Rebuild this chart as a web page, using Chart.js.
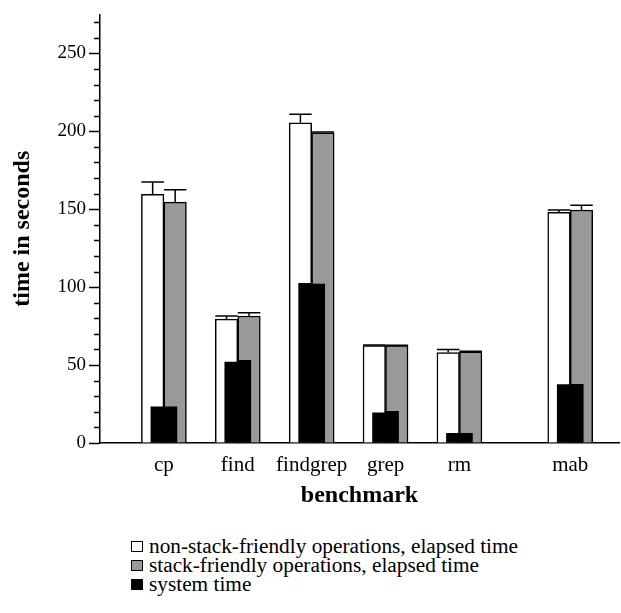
<!DOCTYPE html>
<html><head><meta charset="utf-8">
<script src="https://cdn.jsdelivr.net/npm/chart.js@4.4.0/dist/chart.umd.min.js"></script>
<style>
html,body{margin:0;padding:0;background:#fff;}
#wrap{position:relative;width:621px;height:613px;overflow:hidden;}
#c{position:absolute;left:0;top:0;}
.legend{position:absolute;left:131px;top:537px;font-family:"Liberation Serif","Times New Roman",serif;font-size:21.3px;color:#000;}
.legend .row{display:flex;align-items:center;height:19px;white-space:nowrap;}
.legend .sw{display:inline-block;width:12px;height:11px;border:1.5px solid #000;margin-right:6px;box-sizing:border-box;}
</style></head>
<body><div id="wrap"><canvas id="c" width="621" height="511"></canvas><div class="legend" id="legend"></div></div>
<script>
// ---- data ----
const categories = ['cp', 'find', 'findgrep', 'grep', 'rm', 'mab'];
const nonStackElapsed    = [159.5, 79.5, 205.5, 62.5, 58.0, 148.0];
const nonStackElapsedErr = [8.0, 2.0, 5.5, 0.3, 2.0, 1.5];
const stackElapsed       = [154.5, 81.5, 199.0, 62.5, 58.5, 149.5];
const stackElapsedErr    = [8.0, 2.0, 0.5, 0.2, 0.3, 3.0];
const nonStackSystem     = [23.2, 52.0, 102.5, 19.4, 6.2, 37.5];
const stackSystem        = [23.2, 53.1, 102.0, 20.3, 6.2, 37.7];
const yTickValues        = [0, 50, 100, 150, 200, 250];
const seriesNames = ['non-stack-friendly operations, elapsed time', 'stack-friendly operations, elapsed time', 'system time'];

// layout: the last benchmark sits after a half-slot gap
const slots = categories.map((c, i) => i + (i >= 5 ? 0.5 : 0));
const toXY = arr => arr.map((v, i) => ({x: slots[i], y: v}));

const FONT = '"Liberation Serif", "Times New Roman", serif';
const errs = [nonStackElapsedErr, stackElapsedErr];

const errorBarPlugin = {
  id: 'errorBars',
  afterDatasetsDraw(chart) {
    const ctx = chart.ctx, ys = chart.scales.y;
    [0, 1].forEach(di => {
      const meta = chart.getDatasetMeta(di);
      meta.data.forEach((bar, i) => {
        const v = chart.data.datasets[di].data[i].y;
        const p = bar.getProps(['x', 'y', 'width'], true);
        const top = ys.getPixelForValue(v + errs[di][i]);
        ctx.save();
        ctx.strokeStyle = '#000'; ctx.lineWidth = 1.5;
        ctx.beginPath();
        ctx.moveTo(p.x, p.y); ctx.lineTo(p.x, top);
        ctx.moveTo(p.x - p.width / 2, top); ctx.lineTo(p.x + p.width / 2, top);
        ctx.stroke();
        ctx.restore();
      });
    });
  }
};

const minorTickPlugin = {
  id: 'minorTicks',
  afterDraw(chart) {
    const ctx = chart.ctx, ys = chart.scales.y;
    ctx.save();
    ctx.strokeStyle = '#000'; ctx.lineWidth = 1.5;
    ctx.beginPath();
    for (let v = 10; v <= ys.max; v += 10) {
      if (v % 50 === 0) continue;
      const py = Math.round(ys.getPixelForValue(v)) + 0.5;
      ctx.moveTo(ys.right - 6, py); ctx.lineTo(ys.right, py);
    }
    ctx.stroke();
    ctx.restore();
  }
};

new Chart(document.getElementById('c'), {
  type: 'bar',
  data: {
    datasets: [
      {label: seriesNames[0], data: toXY(nonStackElapsed), backgroundColor: '#ffffff', borderColor: '#000', borderWidth: 1.5, barThickness: 22.5, stack: 'a', order: 1},
      {label: seriesNames[1], data: toXY(stackElapsed), backgroundColor: '#999999', borderColor: '#000', borderWidth: 1.5, barThickness: 22.5, stack: 'b', order: 1},
      {label: seriesNames[2], data: toXY(nonStackSystem), backgroundColor: '#000000', borderWidth: 0, barThickness: 13, stack: 'a', order: 0},
      {label: seriesNames[2] + ' ', data: toXY(stackSystem), backgroundColor: '#000000', borderWidth: 0, barThickness: 13, stack: 'b', order: 0}
    ]
  },
  options: {
    responsive: false,
    animation: false,
    layout: {padding: {top: 10, right: 2, left: 0, bottom: 0}},
    plugins: {legend: {display: false}, tooltip: {enabled: false}},
    scales: {
      x: {
        type: 'linear', min: -0.865, max: 6.16, stacked: true, offset: false,
        afterBuildTicks: s => { s.ticks = slots.map(v => ({value: v})); },
        position: 'bottom',
        grid: {display: false, drawTicks: false},
        border: {display: true, color: '#000', width: 1.5},
        ticks: {
          autoSkip: false, maxRotation: 0, padding: 10,
          color: '#000', font: {family: FONT, size: 21},
          callback: (v, i) => categories[i]
        },
        title: {display: true, text: 'benchmark', color: '#000', font: {family: FONT, size: 24, weight: 'bold'}, padding: {top: 4, bottom: 1}},
        afterFit: s => { s.height = 68; }
      },
      y: {
        min: 0, max: 275, stacked: false,
        afterBuildTicks: s => { s.ticks = yTickValues.map(v => ({value: v})); },
        ticks: {color: '#000', font: {family: FONT, size: 19}, padding: 3},
        grid: {drawOnChartArea: false, drawTicks: true, tickLength: 11, tickColor: '#000', tickWidth: 1.5},
        border: {display: true, color: '#000', width: 1.5},
        title: {display: true, text: 'time in seconds', color: '#000', font: {family: FONT, size: 24, weight: 'bold'}, padding: {top: 8, bottom: 0}},
        afterFit: s => { s.width = 100; }
      }
    }
  },
  plugins: [errorBarPlugin, minorTickPlugin]
});

// HTML legend
const swatchFill = ['#ffffff', '#999999', '#000000'];
const lg = document.getElementById('legend');
seriesNames.forEach((name, i) => {
  const row = document.createElement('div'); row.className = 'row';
  const sw = document.createElement('span'); sw.className = 'sw'; sw.style.background = swatchFill[i];
  const tx = document.createElement('span'); tx.textContent = name;
  row.appendChild(sw); row.appendChild(tx); lg.appendChild(row);
});
</script>
</body></html>
